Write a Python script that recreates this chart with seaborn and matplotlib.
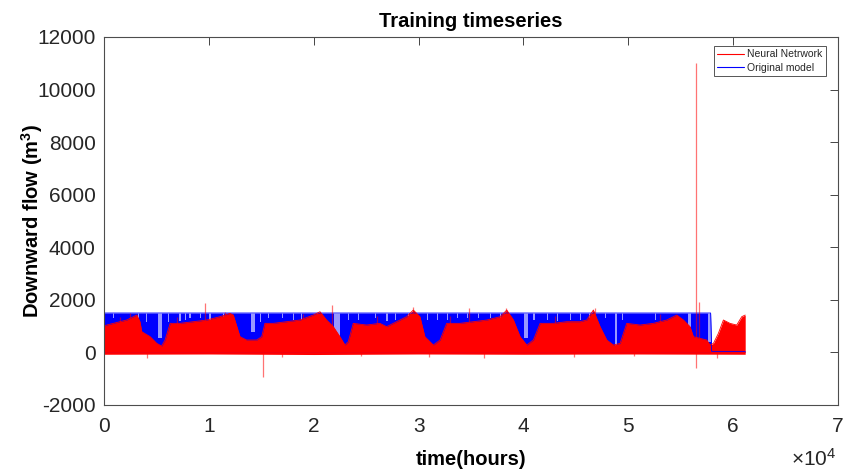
import matplotlib
matplotlib.use("Agg")
import matplotlib.pyplot as plt
from matplotlib.lines import Line2D
import numpy as np
import pandas as pd
import seaborn as sns

# ---- data (hours, m^3) -------------------------------------------------
# upper envelope of the neural-network prediction
nn_hours = [0, 250, 890, 2160, 2800, 3130, 3430, 3600, 4400, 5030,
            5500, 5820, 6310, 7250, 8520, 9790, 11060, 12010, 12330, 12970,
            13600, 14560, 15040, 15350, 16140, 17420, 18690, 19960, 20600, 21230,
            21870, 22500, 22980, 23300, 23770, 25040, 26310, 26950, 27590, 28860,
            29500, 30130, 30600, 31410, 32050, 32680, 33960, 35230, 36500, 37780,
            38410, 39050, 39680, 40320, 40950, 41590, 42860, 44130, 45400, 46040,
            46670, 47310, 47950, 48580, 49220, 49850, 51120, 52390, 53670, 54620,
            55260, 55890, 56210, 56850, 57480, 57800, 58120, 58590, 59070, 59700,
            60340, 60820, 61150]
nn_upper = [1000, 1042, 1106, 1233, 1359, 1423, 1169, 789, 599, 345,
            243, 472, 1106, 1106, 1169, 1233, 1359, 1486, 1423, 599,
            472, 472, 599, 1106, 1106, 1169, 1233, 1423, 1549, 1233,
            979, 599, 281, 408, 1106, 1042, 1106, 979, 1106, 1359,
            1613, 1359, 599, 281, 472, 1106, 1106, 1169, 1233, 1359,
            1613, 1233, 599, 281, 472, 1106, 1106, 1169, 1169, 1233,
            1613, 979, 472, 281, 345, 1106, 1042, 1106, 1233, 1423,
            1233, 979, 599, 535, 472, 281, 345, 725, 1233, 1106,
            1042, 1359, 1423]
# lower envelope of the neural-network prediction (just under zero)
nn_floor_hours = [0, 10000, 20000, 30000, 40000, 50000, 61150]
nn_lower = [-70, -60, -80, -60, -70, -60, -70]
# isolated excursions of the neural-network prediction
nn_spike_hours = [1500, 2500, 4070, 7000, 9630, 11500, 15130, 17000, 19000, 21770,
                  24500, 26000, 29500, 31000, 33000, 34840, 36200, 38340, 43000, 44800,
                  46830, 50500, 53000, 56460, 56780, 58440]
nn_spike_low = [0, 0, -225, 0, 0, 0, -950, -180, 0, 0,
                -150, 0, 0, -170, 0, 0, -200, 0, 0, -180,
                0, -150, 0, -600, 0, -215]
nn_spike_high = [1350, 1500, 0, 1350, 1870, 1550, 0, 0, 1450, 1800,
                 0, 1400, 1740, 0, 1400, 1680, 0, 1680, 1400, 0,
                 1680, 0, 1450, 11000, 1930, 0]

# upper envelope of the original model
om_hours = [0, 57850, 57950, 61150]
om_upper = [1500, 1500, 40, 40]
# hours where the original model stays below its usual ceiling
om_gap_hours = [890, 3270, 4070, 5340, 6130, 7250, 7730, 8200, 9160, 10110,
                11380, 14240, 14880, 15710, 16980, 18090, 18880, 22220, 23330, 24290,
                25870, 26990, 27780, 29060, 30830, 31790, 32740, 33700, 34650, 35760,
                36880, 37830, 40220, 41010, 42280, 43230, 44510, 45460, 46280, 47870,
                48830, 49470, 52640, 55820, 57730]
om_gap_peak = [1310, 1310, 1170, 540, 1170, 1200, 1250, 1300, 1300, 1250,
               1310, 790, 1170, 1300, 1310, 1250, 1250, 540, 1250, 1250,
               1310, 1200, 1250, 1250, 1250, 1250, 1250, 1300, 1300, 1300,
               1300, 1250, 540, 1250, 1250, 1200, 1250, 1250, 1250, 1310,
               220, 1250, 1250, 980, 400]
om_gap_span = [100, 100, 100, 400, 100, 100, 100, 100, 100, 100,
               100, 350, 100, 100, 100, 100, 100, 550, 100, 100,
               100, 100, 100, 100, 100, 100, 100, 100, 100, 100,
               100, 100, 400, 100, 100, 100, 100, 100, 100, 100,
               200, 100, 100, 250, 250]

x_ticks = [0, 10000, 20000, 30000, 40000, 50000, 60000, 70000]
x_tick_labels = ["0", "1", "2", "3", "4", "5", "6", "7"]
y_ticks = [-2000, 0, 2000, 4000, 6000, 8000, 10000, 12000]

RED = "#ff0000"
BLUE = "#0000ff"
AXC = "#262626"

sns.set_theme(style="white")
plt.rcParams["font.family"] = ["Liberation Sans", "DejaVu Sans"]
plt.rcParams["mathtext.fontset"] = "custom"
plt.rcParams["mathtext.rm"] = "Liberation Sans"
plt.rcParams["mathtext.bf"] = "Liberation Sans:bold"

fig = plt.figure(figsize=(8.62, 4.71), dpi=100)
ax = fig.add_axes([104 / 862, 1 - 405 / 471, 734 / 862, 368 / 471])

om = pd.DataFrame({"hours": om_hours, "flow": om_upper})
nn = pd.DataFrame({"hours": nn_hours, "flow": nn_upper})

# original model band
ax.fill_between(om["hours"], 0, om["flow"], color=BLUE, lw=0)
sns.lineplot(data=om, x="hours", y="flow", color=BLUE, lw=0.6, ax=ax, legend=False)
for h, p, s in zip(om_gap_hours, om_gap_peak, om_gap_span):
    ax.fill_between([h - s / 2, h + s / 2], p, 1510, color="white", alpha=0.6, lw=0)

# neural network band
ax.fill_between(nn["hours"], 0, nn["flow"], color=RED, lw=0)
ax.fill_between(nn_floor_hours, nn_lower, 0, color=RED, lw=0)
sns.lineplot(data=nn, x="hours", y="flow", color=RED, lw=0.6, ax=ax, legend=False)
ax.vlines(nn_spike_hours, nn_spike_low, nn_spike_high, color=RED, lw=0.9, alpha=0.55)

ax.set_xlim(0, 70000)
ax.set_ylim(-2000, 12000)
ax.set_xticks(x_ticks)
ax.set_xticklabels(x_tick_labels)
ax.set_yticks(y_ticks)
ax.set_yticklabels([str(v) for v in y_ticks])

ax.tick_params(direction="in", length=6, width=0.6, color=AXC,
               top=True, right=True, labelsize=15, labelcolor=AXC)
ax.tick_params(axis="x", pad=9)
ax.tick_params(axis="y", pad=6)
for sp in ax.spines.values():
    sp.set_visible(True)
    sp.set_color("#4d4d4d")
    sp.set_linewidth(0.8)

ax.set_title("Training timeseries", fontsize=14.5, fontweight="bold",
             color="black", pad=7)
ax.set_xlabel("time(hours)", fontsize=14.5, fontweight="bold", color="black",
              labelpad=10)
ax.set_ylabel(r"Downward flow (m$^{\mathbf{3}}$)", fontsize=14.5,
              fontweight="bold", color="black", labelpad=-6)

fig.text(836 / 862, 1 - 459 / 471, r"$\mathregular{\times10^{4}}$",
         ha="right", va="center", fontsize=15, color=AXC)

handles = [Line2D([0], [0], color=RED, lw=0.8),
           Line2D([0], [0], color=BLUE, lw=0.8)]
leg = ax.legend(handles, ["Neural Netrwork", "Original model"],
                loc="upper right", bbox_to_anchor=(0.984, 0.976),
                borderaxespad=0, fontsize=7.5, frameon=True, fancybox=False,
                framealpha=1, edgecolor="#555555", handlelength=2.6,
                handletextpad=0.3, borderpad=0.35, labelspacing=0.3)
leg.get_frame().set_linewidth(0.7)

fig.savefig("out.png", dpi=100, facecolor="white")
